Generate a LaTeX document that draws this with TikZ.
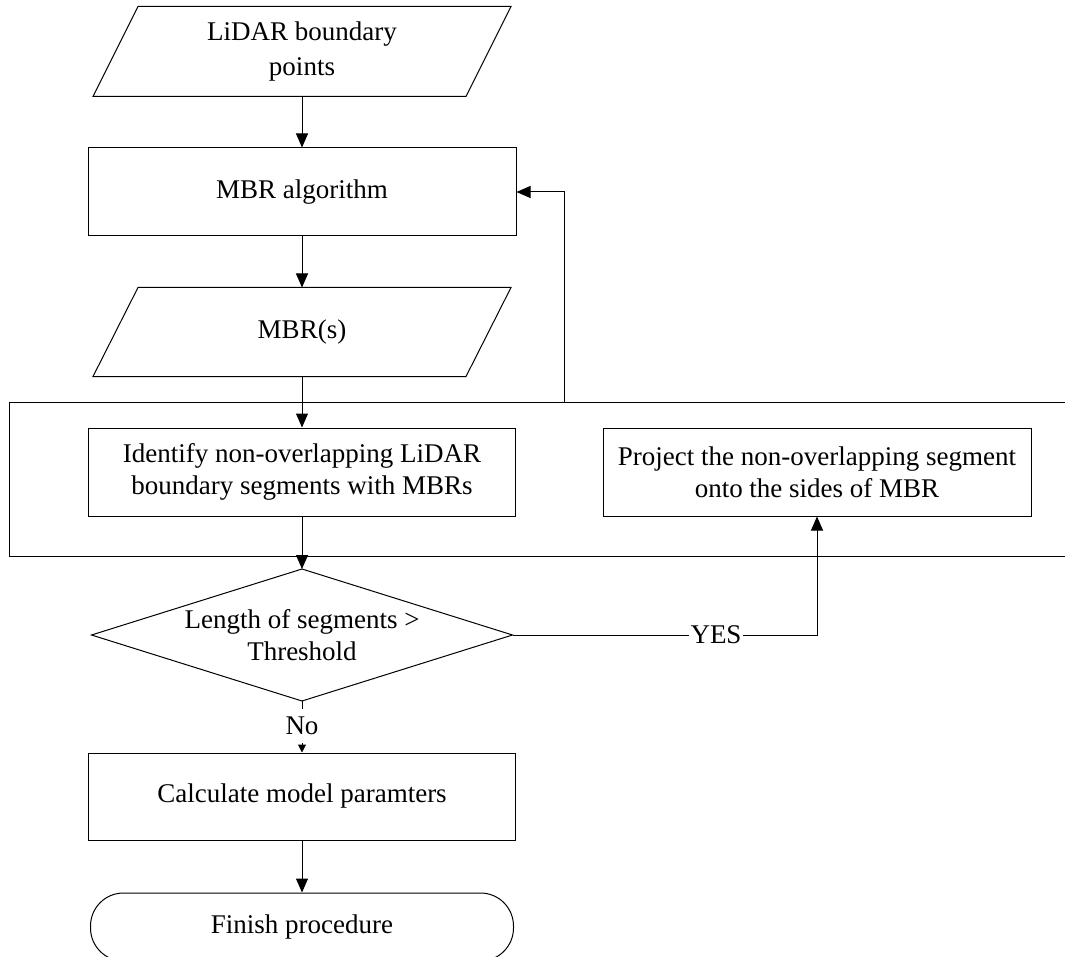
\documentclass[tikz,border=0pt]{standalone}
\usepackage{fontspec}
\setmainfont{Liberation Serif}
\usetikzlibrary{arrows.meta}

\begin{document}
\begin{tikzpicture}[x=1pt, y=-1pt, line width=1pt,
  txt/.style={font=\fontsize{27}{32}\selectfont, align=center, inner sep=0pt},
  procbox/.style={txt, draw, rectangle},
  iobox/.style={txt, rectangle},
  arr/.style={-{Triangle[length=14pt, width=12pt]}},
  smallarr/.style={-{Triangle[length=8pt, width=8pt]}},
  lbl/.style={font=\fontsize{27}{32}\selectfont, inner xsep=1pt, inner ysep=8pt}
]
\useasboundingbox (0,0) rectangle (1065,957);

% input / output parallelograms (text nodes, outline drawn from their corners)
\node[iobox, minimum width=417pt, minimum height=89pt] (lidar) at (302,51.5) {LiDAR boundary\\[3pt]points};
\draw ([xshift=45pt]lidar.north west) -- (lidar.north east)
      -- ([xshift=-45pt]lidar.south east) -- (lidar.south west) -- cycle;

\node[procbox, minimum width=428pt, minimum height=88pt] (mbr) at (302,192) {MBR algorithm};

\node[iobox, minimum width=417pt, minimum height=88pt] (mbrs) at (302,332) {MBR(s)};
\draw ([xshift=45pt]mbrs.north west) -- (mbrs.north east)
      -- ([xshift=-45pt]mbrs.south east) -- (mbrs.south west) -- cycle;

% loop frame (open to the right)
\coordinate (frameTL) at (9,402);
\coordinate (frameBL) at (9,556);
\draw (1075,402) -- (frameTL) -- (frameBL) -- (1075,556);
\coordinate (fb) at (564,402);

\node[procbox, minimum width=427pt, minimum height=88pt] (ident) at (302,472)
  {Identify non-overlapping LiDAR\\boundary segments with MBRs};
\node[procbox, minimum width=428pt, minimum height=88pt] (proj) at (817,472)
  {Project the non-overlapping segment\\onto the sides of MBR};

% decision
\node[txt, minimum width=420pt, minimum height=131pt] (dia) at (302,635)
  {Length of segments >\\Threshold};
\draw (dia.north) -- (dia.east) -- (dia.south) -- (dia.west) -- cycle;

\node[procbox, minimum width=427pt, minimum height=87pt] (calc) at (302,796.5)
  {Calculate model paramters};

\node[procbox, rounded corners=33pt, minimum width=423pt, minimum height=68pt] (fin) at (302,927)
  {Finish procedure};

% labels on the decision branches
\node[lbl] (no) at (302,726) {No};
\node[lbl] (yes) at (716,635) {YES};

% connectors
\draw[arr] (lidar.south) -- (mbr.north);
\draw[arr] (mbr.south) -- (mbrs.north);
\draw[arr] (mbrs.south) -- (ident.north);
\draw[arr] (ident.south) -- (dia.north);
\draw (dia.south) -- (no.north);
\draw[smallarr] (no.south) -- (calc.north);
\draw[arr] (calc.south) -- (fin.north);
\draw (dia.east) -- (yes.west);
\draw[arr] (yes.east) -| (proj.south);
\draw[arr] (fb) |- (mbr.east);
\end{tikzpicture}
\end{document}
